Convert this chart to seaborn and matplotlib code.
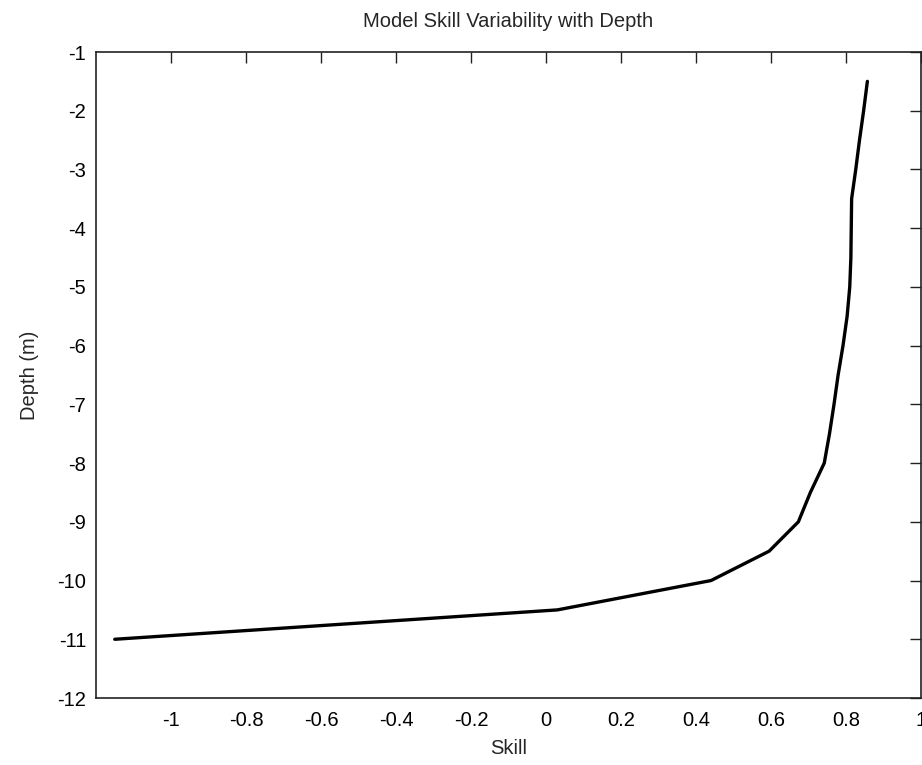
import matplotlib
matplotlib.use("Agg")
import matplotlib.pyplot as plt
import seaborn as sns
import pandas as pd

depth = [-1.5, -2, -2.5, -3, -3.5, -4, -4.5, -5, -5.5, -6, -6.5, -7,
         -7.5, -8, -8.5, -9, -9.5, -10, -10.5, -11]
skill = [0.857, 0.847, 0.836, 0.826, 0.815, 0.814, 0.813, 0.810, 0.803,
         0.792, 0.779, 0.768, 0.756, 0.742, 0.705, 0.673, 0.595, 0.44,
         0.03, -1.15]
xticks = [-1, -0.8, -0.6, -0.4, -0.2, 0, 0.2, 0.4, 0.6, 0.8, 1]
yticks = list(range(-12, 0))

sns.set_style("white")
plt.rcParams['font.family'] = ['Liberation Sans', 'DejaVu Sans']

df = pd.DataFrame({"Skill": skill, "Depth": depth})

fig = plt.figure(figsize=(9.22, 7.65), dpi=100)
ax = fig.add_axes([96/922, 1-698/765, (921-96)/922, (698-52)/765])
sns.lineplot(data=df, x="Skill", y="Depth", sort=False, estimator=None,
             color="black", linewidth=2.4, ax=ax)

ax.set_xlim(-1.2, 1)
ax.set_ylim(-12, -1)
ax.set_xticks(xticks)
ax.set_xticklabels([f"{t:g}" for t in xticks])
ax.set_yticks(yticks)
ax.set_yticklabels([f"{t:g}" for t in yticks])
ax.tick_params(direction="in", length=8, width=1, top=True, right=True,
               labelsize=14.5, colors="#222222", labelcolor="black")
ax.tick_params(axis="x", pad=9)
ax.tick_params(axis="y", pad=7)
for s in ax.spines.values():
    s.set_visible(True)
    s.set_color("#222222")
    s.set_linewidth(1.2)
ax.set_xlabel("Skill", fontsize=14.5, labelpad=7)
ax.set_ylabel("Depth (m)", fontsize=14.5, labelpad=13)
ax.set_title("Model Skill Variability with Depth", fontsize=14.5, pad=18)

fig.savefig("out.png", dpi=100)
